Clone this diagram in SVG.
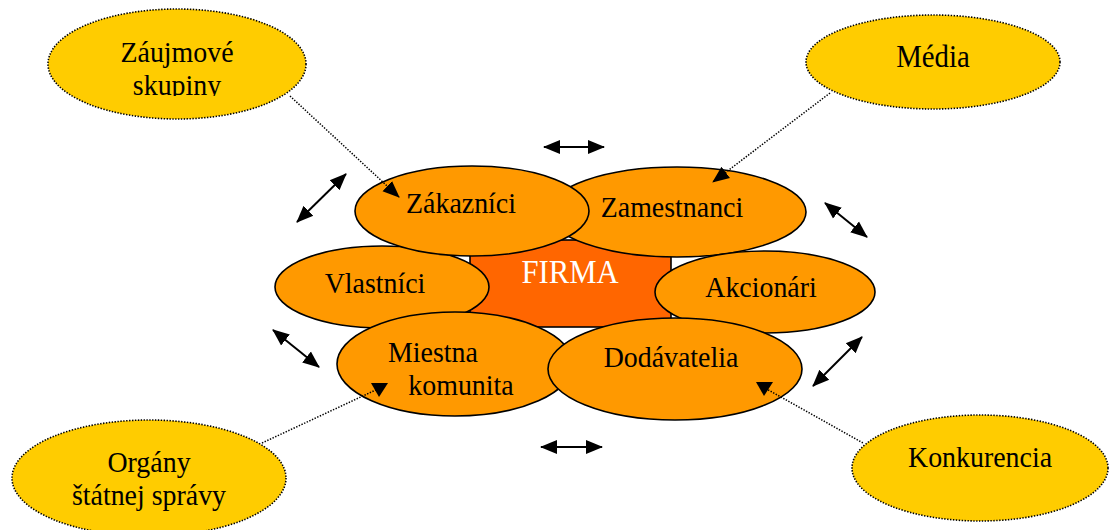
<svg xmlns="http://www.w3.org/2000/svg" width="1109" height="530" viewBox="0 0 1109 530">
<style>
.outer{fill:#FFCC00;stroke:#000;stroke-width:1.6;stroke-dasharray:1.4 1.5}
.inner{fill:#FF9900;stroke:#000;stroke-width:1.6}
.t{font-family:"Liberation Serif","Times New Roman",serif;font-size:30px;fill:#000;text-anchor:middle;transform-box:fill-box;transform-origin:center;transform:scaleX(0.93)}
.dot{fill:none;stroke:#000;stroke-width:1.5;stroke-dasharray:1.4 1.5}
.dbl{fill:none;stroke:#000;stroke-width:2;marker-start:url(#ah);marker-end:url(#ah)}
</style>
<defs>
<marker id="ah" markerUnits="userSpaceOnUse" markerWidth="18" markerHeight="16" refX="16" refY="7" orient="auto-start-reverse" viewBox="0 0 18 14">
<path d="M0,0 L17,7 L0,14 Z" fill="#000"/>
</marker>
<marker id="ah2" markerUnits="userSpaceOnUse" markerWidth="18" markerHeight="16" refX="16" refY="7" orient="auto" viewBox="0 0 18 14">
<path d="M0,0 L17,7 L0,14 Z" fill="#000"/>
</marker>
<clipPath id="clipSk" clipPathUnits="userSpaceOnUse"><rect x="40" y="0" width="280" height="96"/></clipPath>
</defs>

<g id="firma">
<rect x="470" y="240" width="201" height="87" fill="#FF6600" stroke="#000" stroke-width="1.6"/>
</g>
<g id="zamestnanci">
<ellipse class="inner" cx="677" cy="212" rx="129" ry="45"/>
<text class="t" x="672" y="217">Zamestnanci</text>
</g>
<g id="vlastnici">
<ellipse class="inner" cx="382" cy="287" rx="107" ry="41"/>
<text class="t" x="375" y="293">Vlastníci</text>
</g>
<g id="zakaznici">
<ellipse class="inner" cx="472" cy="211" rx="117" ry="45"/>
<text class="t" x="461" y="213">Zákazníci</text>
</g>
<g id="firma-label">
<text class="t" x="570" y="283" style="fill:#fff;font-size:33px">FIRMA</text>
</g>
<g id="akcionari">
<ellipse class="inner" cx="765" cy="292" rx="110" ry="41"/>
<text class="t" x="761" y="297">Akcionári</text>
</g>
<g id="miestna-komunita">
<ellipse class="inner" cx="455" cy="364" rx="118" ry="52"/>
<text class="t" x="433" y="362">Miestna</text>
<text class="t" x="461" y="395">komunita</text>
</g>
<g id="dodavatelia">
<ellipse class="inner" cx="675" cy="369" rx="127" ry="51"/>
<text class="t" x="671" y="367">Dodávatelia</text>
</g>

<g id="zaujmove-skupiny">
<ellipse class="outer" cx="177" cy="64" rx="129" ry="55"/>
<text class="t" x="177" y="62">Záujmové</text>
<g clip-path="url(#clipSk)"><text class="t" x="177" y="95">skupiny</text></g>
</g>
<g id="media">
<ellipse class="outer" cx="933" cy="62" rx="127" ry="47"/>
<text class="t" x="933" y="67" style="font-size:31px">Média</text>
</g>
<g id="organy">
<ellipse class="outer" cx="149" cy="478" rx="137" ry="58"/>
<text class="t" x="149" y="472">Orgány</text>
<text class="t" x="149" y="505">štátnej správy</text>
</g>
<g id="konkurencia">
<ellipse class="outer" cx="980" cy="468" rx="128" ry="53"/>
<text class="t" x="980" y="467">Konkurencia</text>
</g>

<g id="connectors">
<line class="dot" x1="290" y1="96" x2="399" y2="197" marker-end="url(#ah2)"/>
<line class="dot" x1="830" y1="93" x2="713" y2="182" marker-end="url(#ah2)"/>
<line class="dot" x1="262" y1="443" x2="380" y2="388"/>
<polygon points="371,383 388,383 379,397" fill="#000"/>
<line class="dot" x1="763" y1="387" x2="863" y2="443"/>
<polygon points="756,382 773,382 764,396" fill="#000"/>
<line class="dbl" x1="544" y1="147" x2="604" y2="147"/>
<line class="dbl" x1="541" y1="447" x2="602" y2="447"/>
<line class="dbl" x1="297" y1="222" x2="346" y2="174"/>
<line class="dbl" x1="825" y1="203" x2="867" y2="237"/>
<line class="dbl" x1="273" y1="330" x2="319" y2="367"/>
<line class="dbl" x1="862" y1="337" x2="813" y2="386"/>
</g>
</svg>
